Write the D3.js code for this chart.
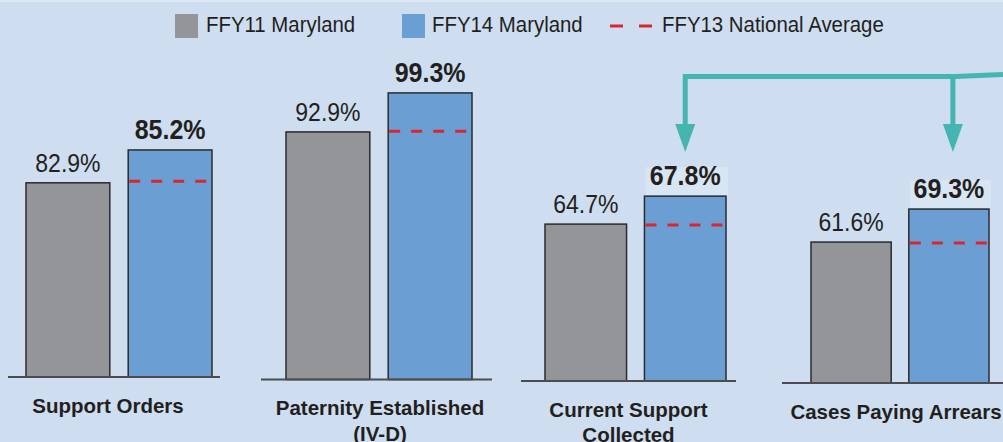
<!DOCTYPE html>
<head>
  <meta charset="utf-8">
  <script src="https://d3js.org/d3.v7.min.js"></script>
  <style>
    body { margin:0; background:#cedef0; }
    text { font-family: "Liberation Sans", Arial, sans-serif; fill:#231f20; }
  </style>
</head>

<body>
  <script>
    // data
    var categories = [["Support Orders"], ["Paternity Established", "(IV-D)"],
                      ["Current Support", "Collected"], ["Cases Paying Arrears"]];
    var series = ["FFY11", "FFY14"];
    var ffy11 = [82.9, 92.9, 64.7, 61.6];
    var ffy14 = [85.2, 99.3, 67.8, 69.3];
    var national = [83.0, 93.0, 64.6, 61.4];
    // each small chart has its own (truncated) value axis
    var axisMin = [69.3, 52.3, 47.3, 28.7];
    var axisMax = [91.5, 104.7, 82.9, 104.1];
    var legendLabels = ["FFY11 Maryland", "FFY14 Maryland", "FFY13 National Average"];

    var width = 1003,
        height = 442,
        topY = 60;

    // layout of the four panels
    var panels = [
      {line: [8, 220],    bars: [26, 212],  base: 377,   labelX: 108},
      {line: [261, 492],  bars: [286, 472], base: 379.5, labelX: 380},
      {line: [521, 736],  bars: [545, 726], base: 381,   labelX: 628.5},
      {line: [782, 1010], bars: [811, 989], base: 383,   labelX: 896}
    ];
    var boxed = [false, false, true, true];

    var color = {FFY11: "#949599", FFY14: "#6b9fd4"};

    var svg = d3.select("body").append("svg")
      .attr("width", width)
      .attr("height", height)

    svg.append("rect").attr("width", width).attr("height", height).attr("fill", "#cedef0");
    svg.append("rect").attr("width", width).attr("height", 2).attr("fill", "#dfe9f5");

    // text stretched a little taller, like the original
    function tall(sel, x, y, s) {
      return sel.attr("transform", "translate(" + x + "," + y + ") scale(1," + s + ")");
    }

    //legend
    var legend = svg.append("g");
    legend.append("rect").attr("x", 175).attr("y", 14).attr("width", 23).attr("height", 24).attr("fill", color.FFY11);
    tall(legend.append("text"), 206, 32, 1.08).attr("font-size", 20.4).text(legendLabels[0]);
    legend.append("rect").attr("x", 402).attr("y", 14).attr("width", 23).attr("height", 24).attr("fill", color.FFY14);
    tall(legend.append("text"), 432, 32, 1.08).attr("font-size", 20.4).text(legendLabels[1]);
    legend.append("line").attr("x1", 610).attr("x2", 652).attr("y1", 26).attr("y2", 26)
      .attr("stroke", "#d9262c").attr("stroke-width", 3).attr("stroke-dasharray", "13,16");
    tall(legend.append("text"), 662, 32, 1.08).attr("font-size", 20.4).text(legendLabels[2]);

    var arrowX = [];

    panels.forEach(function(p, i) {
      var x = d3.scaleBand().domain(series).range(p.bars).paddingInner(0.18).paddingOuter(0);
      var y = d3.scaleLinear().domain([axisMin[i], axisMax[i]]).range([p.base, topY]);
      var vals = [{k: "FFY11", v: ffy11[i]}, {k: "FFY14", v: ffy14[i]}];
      var g = svg.append("g");

      // label box behind bold value
      if (boxed[i]) {
        g.append("rect")
          .attr("x", x("FFY14") + 1)
          .attr("y", y(ffy14[i]) - 29)
          .attr("width", x.bandwidth() + 1)
          .attr("height", 28)
          .attr("fill", "#d8e5f3");
      }

      g.selectAll(".bar")
        .data(vals)
        .enter()
        .append("rect")
        .attr("x", function(d) { return x(d.k); })
        .attr("y", function(d) { return y(d.v); })
        .attr("width", x.bandwidth())
        .attr("height", function(d) { return p.base - y(d.v); })
        .attr("fill", function(d) { return color[d.k]; })
        .attr("stroke", "#2b2b2b")
        .attr("stroke-width", 1.5);

      // national average
      g.append("line")
        .attr("x1", x("FFY14") + 1)
        .attr("x2", x("FFY14") + x.bandwidth() - 1)
        .attr("y1", y(national[i]))
        .attr("y2", y(national[i]))
        .attr("stroke", "#d9262c")
        .attr("stroke-width", 3)
        .attr("stroke-dasharray", "11,11");

      // baseline
      g.append("line")
        .attr("x1", p.line[0]).attr("x2", p.line[1])
        .attr("y1", p.base).attr("y2", p.base)
        .attr("stroke", "#4d4d4f")
        .attr("stroke-width", 2);

      g.selectAll(".val")
        .data(vals)
        .enter()
        .append("text")
        .attr("transform", function(d) {
          return "translate(" + (x(d.k) + x.bandwidth() / 2) + "," + (y(d.v) - 11) + ") scale(1,1.1)";
        })
        .attr("text-anchor", "middle")
        .attr("font-size", function(d) { return d.k == "FFY14" ? 25 : 23; })
        .attr("font-weight", function(d) { return d.k == "FFY14" ? "bold" : "normal"; })
        .text(function(d) { return d.v.toFixed(1) + "%"; });

      var lab = g.append("text")
        .attr("text-anchor", "middle")
        .attr("font-size", 20.5)
        .attr("font-weight", "bold");
      categories[i].forEach(function(t, j) {
        lab.append("tspan").attr("x", p.labelX).attr("y", p.base + 35.5 + j * 25.5).text(t);
      });

      arrowX.push(x("FFY14") + x.bandwidth() / 2);
    });

    // teal arrows pointing at the two collection measures
    var teal = "#45b5b0";
    var a1 = arrowX[2], a2 = arrowX[3] + 4;
    svg.append("path")
      .attr("d", "M" + a1 + ",126 V76.5 H" + (a2 + 2) + " L1003,74.5 M" + a2 + ",76.5 V126")
      .attr("fill", "none")
      .attr("stroke", teal)
      .attr("stroke-width", 5);
    [a1, a2].forEach(function(ax) {
      svg.append("path")
        .attr("d", "M" + (ax - 10) + ",124 L" + (ax + 10) + ",124 L" + ax + ",152 Z")
        .attr("fill", teal);
    });
  </script>
</body>
